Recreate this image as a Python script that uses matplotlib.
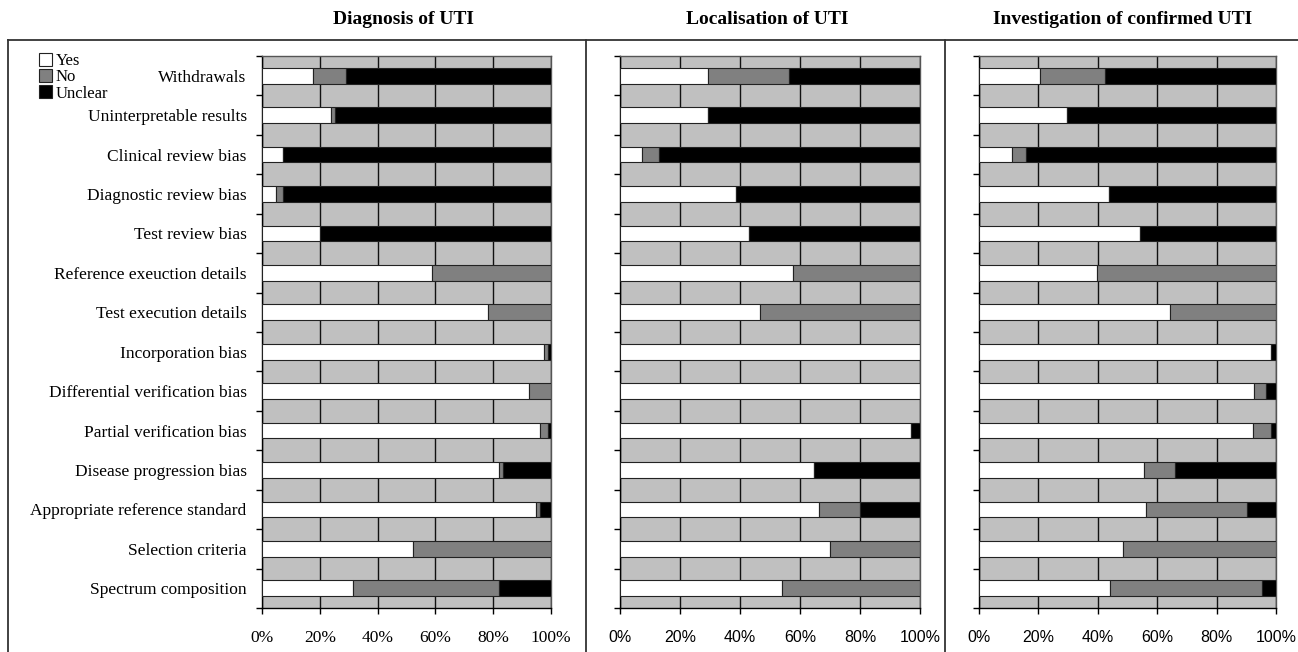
import matplotlib
matplotlib.use("Agg")
import matplotlib.pyplot as plt
from matplotlib.lines import Line2D
from matplotlib.patches import Patch

# categories listed top to bottom
categories = [
    "Withdrawals",
    "Uninterpretable results",
    "Clinical review bias",
    "Diagnostic review bias",
    "Test review bias",
    "Reference exeuction details",
    "Test execution details",
    "Incorporation bias",
    "Differential verification bias",
    "Partial verification bias",
    "Disease progression bias",
    "Appropriate reference standard",
    "Selection criteria",
    "Spectrum composition",
]

panel_titles = ["Diagnosis of UTI", "Localisation of UTI", "Investigation of confirmed UTI"]

# percentages (yes / no / unclear) per panel
diag_yes = [17.8, 24.0, 7.4, 5.0, 20.1, 58.8, 78.2, 97.5, 92.5, 96.1, 81.9, 94.7, 52.4, 31.6]
diag_no = [11.4, 1.4, 0.0, 2.4, 0.0, 41.2, 21.8, 1.5, 7.5, 2.9, 1.4, 1.4, 47.6, 50.3]
diag_unclear = [70.8, 74.6, 92.6, 92.6, 79.9, 0.0, 0.0, 1.0, 0.0, 1.0, 16.7, 3.9, 0.0, 18.1]

loc_yes = [29.4, 29.2, 7.3, 38.6, 42.9, 57.7, 46.7, 100.0, 100.0, 96.9, 64.6, 66.4, 70.1, 54.1]
loc_no = [26.8, 0.0, 5.6, 0.0, 0.0, 42.3, 53.3, 0.0, 0.0, 0.0, 0.0, 13.6, 29.9, 45.9]
loc_unclear = [43.8, 70.8, 87.1, 61.4, 57.1, 0.0, 0.0, 0.0, 0.0, 3.1, 35.4, 20.0, 0.0, 0.0]

inv_yes = [20.5, 29.5, 11.2, 43.9, 54.1, 39.7, 64.3, 98.3, 92.6, 92.4, 55.6, 56.1, 48.5, 44.2]
inv_no = [22.0, 0.0, 4.5, 0.0, 0.0, 60.3, 35.7, 0.0, 4.0, 5.9, 10.4, 34.0, 51.5, 51.0]
inv_unclear = [57.5, 70.5, 84.3, 56.1, 45.9, 0.0, 0.0, 1.7, 3.4, 1.7, 34.0, 9.9, 0.0, 4.8]

panels = [
    (diag_yes, diag_no, diag_unclear),
    (loc_yes, loc_no, loc_unclear),
    (inv_yes, inv_no, inv_unclear),
]

x_ticks = [0, 20, 40, 60, 80, 100]
x_labels = ["0%", "20%", "40%", "60%", "80%", "100%"]

colors = {"Yes": "#ffffff", "No": "#808080", "Unclear": "#000000"}

fig = plt.figure(figsize=(12.98, 6.52), dpi=100)
W, H = 1298, 652

# axes boxes in pixels: (left, right)
ax_px = [(262, 551), (620, 920), (979, 1276)]
top_px, bot_px = 56, 608

tick_fonts = ["Liberation Serif", "Liberation Sans", "Liberation Sans"]
tick_sizes = [12.5, 11.5, 11.5]

for i, (yes, no, unclear) in enumerate(panels):
    l, r = ax_px[i]
    ax = fig.add_axes([l / W, 1 - bot_px / H, (r - l) / W, (bot_px - top_px) / H])
    ax.set_facecolor("#c0c0c0")
    ypos = list(range(len(categories)))
    left_no = [a for a in yes]
    left_unc = [a + b for a, b in zip(yes, no)]
    ax.barh(ypos, yes, height=0.4, color=colors["Yes"], edgecolor="#222222", linewidth=0.8, zorder=3)
    ax.barh(ypos, no, left=left_no, height=0.4, color=colors["No"], edgecolor="#222222", linewidth=0.8, zorder=3)
    ax.barh(ypos, unclear, left=left_unc, height=0.4, color=colors["Unclear"], edgecolor="#222222", linewidth=0.8, zorder=3)

    ax.set_xlim(0, 100)
    ax.set_ylim(len(categories) - 0.5, -0.5)
    ax.set_axisbelow(True)
    ax.xaxis.grid(True, color="#111111", linewidth=1.0)
    ax.yaxis.grid(False)

    ax.set_xticks(x_ticks)
    ax.set_xticklabels(x_labels, fontfamily=tick_fonts[i], fontsize=tick_sizes[i])
    ax.tick_params(axis="x", length=4, width=1, pad=12, direction="out")

    ax.set_yticks([k - 0.5 for k in range(len(categories) + 1)])
    ax.set_yticklabels([])
    ax.tick_params(axis="y", which="major", length=4, width=1, direction="out")
    if i == 0:
        ax.set_yticks(ypos, minor=True)
        ax.set_yticklabels(categories, minor=True, fontfamily="Liberation Serif", fontsize=12.5)
        ax.tick_params(axis="y", which="minor", length=0, pad=11)

    for side in ["top", "right"]:
        ax.spines[side].set_color("#555555")
        ax.spines[side].set_linewidth(1.0)
    for side in ["left", "bottom"]:
        ax.spines[side].set_color("#000000")
        ax.spines[side].set_linewidth(1.0)

# panel titles
title_x = [403, 767, 1123]
for t, x in zip(panel_titles, title_x):
    fig.text(x / W, 1 - 20 / H, t, ha="center", va="center",
             fontfamily="Liberation Serif", fontweight="bold", fontsize=14)

# frame lines around panels
frame_kw = dict(color="#333333", linewidth=1.3, transform=fig.transFigure)
fig.add_artist(Line2D([8 / W, 1.0], [1 - 40 / H, 1 - 40 / H], **frame_kw))
fig.add_artist(Line2D([8 / W, 8 / W], [0, 1 - 40 / H], **frame_kw))
fig.add_artist(Line2D([586 / W, 586 / W], [0, 1 - 40 / H], **frame_kw))
fig.add_artist(Line2D([945 / W, 945 / W], [0, 1 - 40 / H], **frame_kw))

# legend
handles = [Patch(facecolor=colors[k], edgecolor="#222222", linewidth=0.8) for k in ["Yes", "No", "Unclear"]]
fig.legend(handles, ["Yes", "No", "Unclear"], loc="upper left",
           bbox_to_anchor=(29 / W, 1 - 43 / H), frameon=False,
           prop={"family": "Liberation Serif", "size": 12},
           handlelength=0.8, handleheight=0.8, handletextpad=0.2,
           labelspacing=0.0, borderpad=0.1)

fig.savefig("out.png", dpi=100)
